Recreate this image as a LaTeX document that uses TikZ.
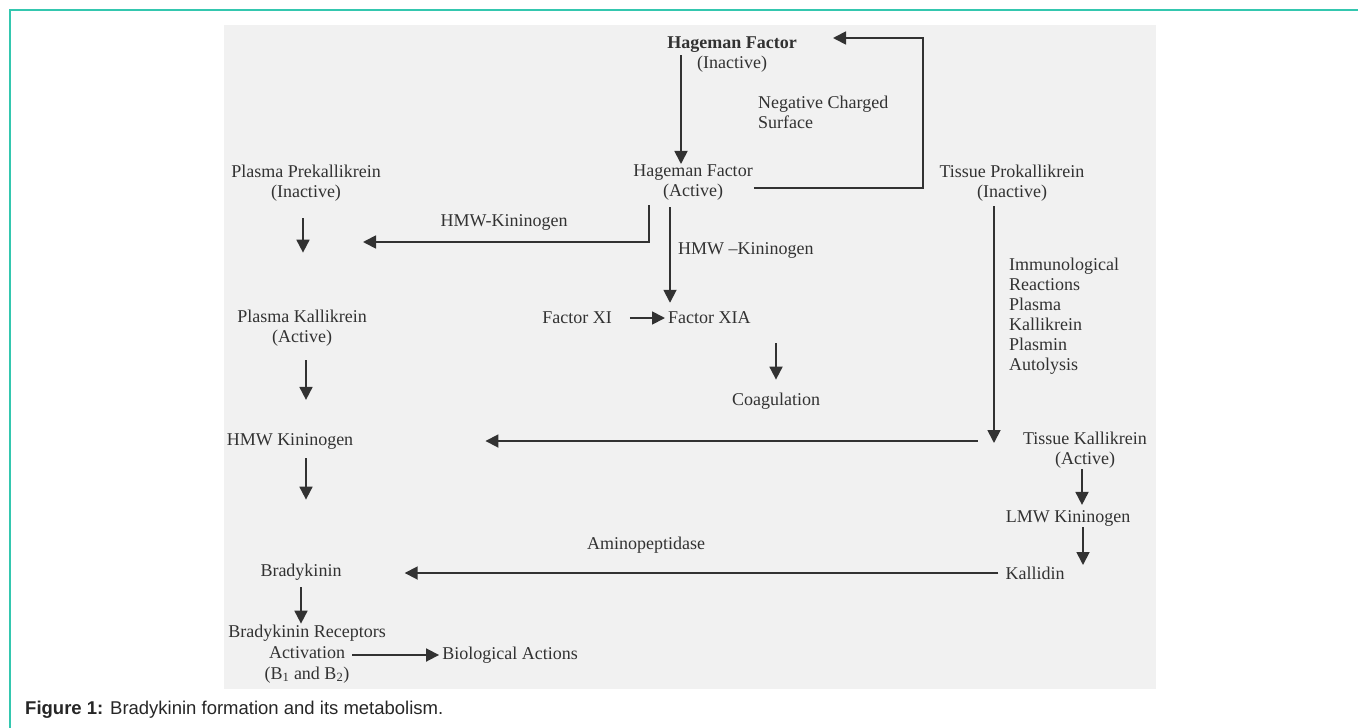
\documentclass[tikz,border=0pt]{standalone}
\usepackage{fontspec}
\setmainfont{Liberation Serif}
\newfontfamily\capfont{Liberation Sans}
\usetikzlibrary{arrows.meta}
\definecolor{framecol}{RGB}{52,199,175}
\definecolor{paper}{RGB}{241,241,241}
\definecolor{ink}{RGB}{50,50,50}
\tikzset{
  lbl/.style={font=\fontsize{18}{20}\selectfont, text=ink, inner sep=1pt, align=center},
  lblleft/.style={lbl, align=left, anchor=west},
  arr/.style={draw=ink, line width=1.8pt, -{Triangle[length=13pt,width=13pt]}},
}
\begin{document}
\begin{tikzpicture}[x=1pt,y=-1pt]
  \useasboundingbox (0,0) rectangle (1358,728);
  % frame and scanned page
  \draw[framecol, line width=2pt] (10,728) -- (10,10) -- (1358,10);
  \fill[paper] (224,25) rectangle (1156,689);

  % nodes
  \node[lbl] (hfi) at (732,55) {\textbf{Hageman Factor}\\(Inactive)};
  \node[lblleft] (ncs) at (757,112) {Negative Charged\\Surface};
  \node[lbl] (hfa) at (693,183) {Hageman Factor\\(Active)};
  \node[lbl] (tpi) at (1012,183) {Tissue Prokallikrein\\(Inactive)};
  \node[lbl] (ppi) at (306,183) {Plasma Prekallikrein\\(Inactive)};
  \node[lbl] (hmwa) at (504,222) {HMW-Kininogen};
  \node[lblleft] (hmwb) at (677,250) {HMW --Kininogen};
  \node[lbl] (fxi) at (577,318) {Factor XI};
  \node[lblleft] (fxia) at (667,318) {Factor XIA};
  \node[lbl] (pk) at (302,328) {Plasma Kallikrein\\(Active)};
  \node[lblleft] (imm) at (1008,316)
    {Immunological\\Reactions\\Plasma\\Kallikrein\\Plasmin\\Autolysis};
  \node[lbl] (coag) at (776,401) {Coagulation};
  \node[lbl] (hmwk) at (290,441) {HMW Kininogen};
  \node[lbl] (tk) at (1085,450) {Tissue Kallikrein\\(Active)};
  \node[lbl] (lmw) at (1068,518) {LMW Kininogen};
  \node[lbl] (amino) at (646,545) {Aminopeptidase};
  \node[lbl] (kal) at (1035,573) {Kallidin};
  \node[lbl] (bk) at (301,572) {Bradykinin};
  \node[lbl, font=\fontsize{18}{21}\selectfont] (bkr) at (307,654)
    {Bradykinin Receptors\\Activation\\(B\textsubscript{1} and B\textsubscript{2})};
  \node[lbl] (bio) at (510,655) {Biological Actions};
  \coordinate (fbc) at (923,38);
  \coordinate (fbt) at (833,38);
  \coordinate (hk) at (363,242);

  % connectors
  \draw[arr] ([xshift=-51pt]hfi.center) -- ([xshift=-51pt]hfi.center |- hfa.north);
  \draw[arr] ([yshift=-5pt]hfa.east) -| (fbc) -- (fbt);
  \draw[arr, shorten <=3pt] ([xshift=-44pt]hfa.south) |- (hk);
  \draw[arr, shorten <=5pt, shorten >=8pt] ([xshift=-23pt]hfa.south) -- ([xshift=-23pt]hfa.south |- fxia.north);
  \draw[arr, shorten <=17pt, shorten >=2pt] (fxi.east) -- (fxia.west);
  \draw[arr, shorten <=18pt, shorten >=12pt] (coag.north |- fxia.south) -- (coag.north);
  \draw[arr, shorten <=16pt, shorten >=56pt] ([xshift=-3pt]ppi.south) -- ([xshift=-3pt]ppi.south |- pk.north);
  \draw[arr, shorten <=13pt, shorten >=32pt] ([xshift=4pt]pk.south) -- ([xshift=4pt]pk.south |- hmwk.north);
  \draw[arr, shorten <=8pt, shorten >=63pt] ([xshift=16pt]hmwk.south) -- ([xshift=16pt]hmwk.south |- bk.north);
  \draw[arr, shorten <=6pt] (bk.south) -- (bk.south |- bkr.north);
  \draw[arr, shorten >=2pt] ([xshift=45pt]bkr.center |- bio.west) -- (bio.west);
  \draw[arr, shorten <=4pt] ([xshift=-18pt]tpi.south) -- ([xshift=-18pt,yshift=7pt]tpi.south |- tk.center);
  \draw[arr] ([xshift=-44pt]tk.west |- hmwk.east) -- ([xshift=131pt]hmwk.east);
  \draw[arr, shorten >=4pt] ([xshift=-3pt]tk.south) -- ([xshift=-3pt]tk.south |- lmw.north);
  \draw[arr, shorten >=8pt] ([xshift=15pt]lmw.south) -- ([xshift=15pt]lmw.south |- kal.center);
  \draw[arr, shorten <=6pt] (kal.west) -- ([xshift=62pt]bk.east |- kal.west);

  % caption
  \node[font=\capfont\fontsize{18.5}{22}\selectfont, text=black!85, anchor=base west, inner sep=0] (cap)
    at (25,714) {\textbf{Figure 1:} Bradykinin formation and its metabolism.};
\end{tikzpicture}
\end{document}
